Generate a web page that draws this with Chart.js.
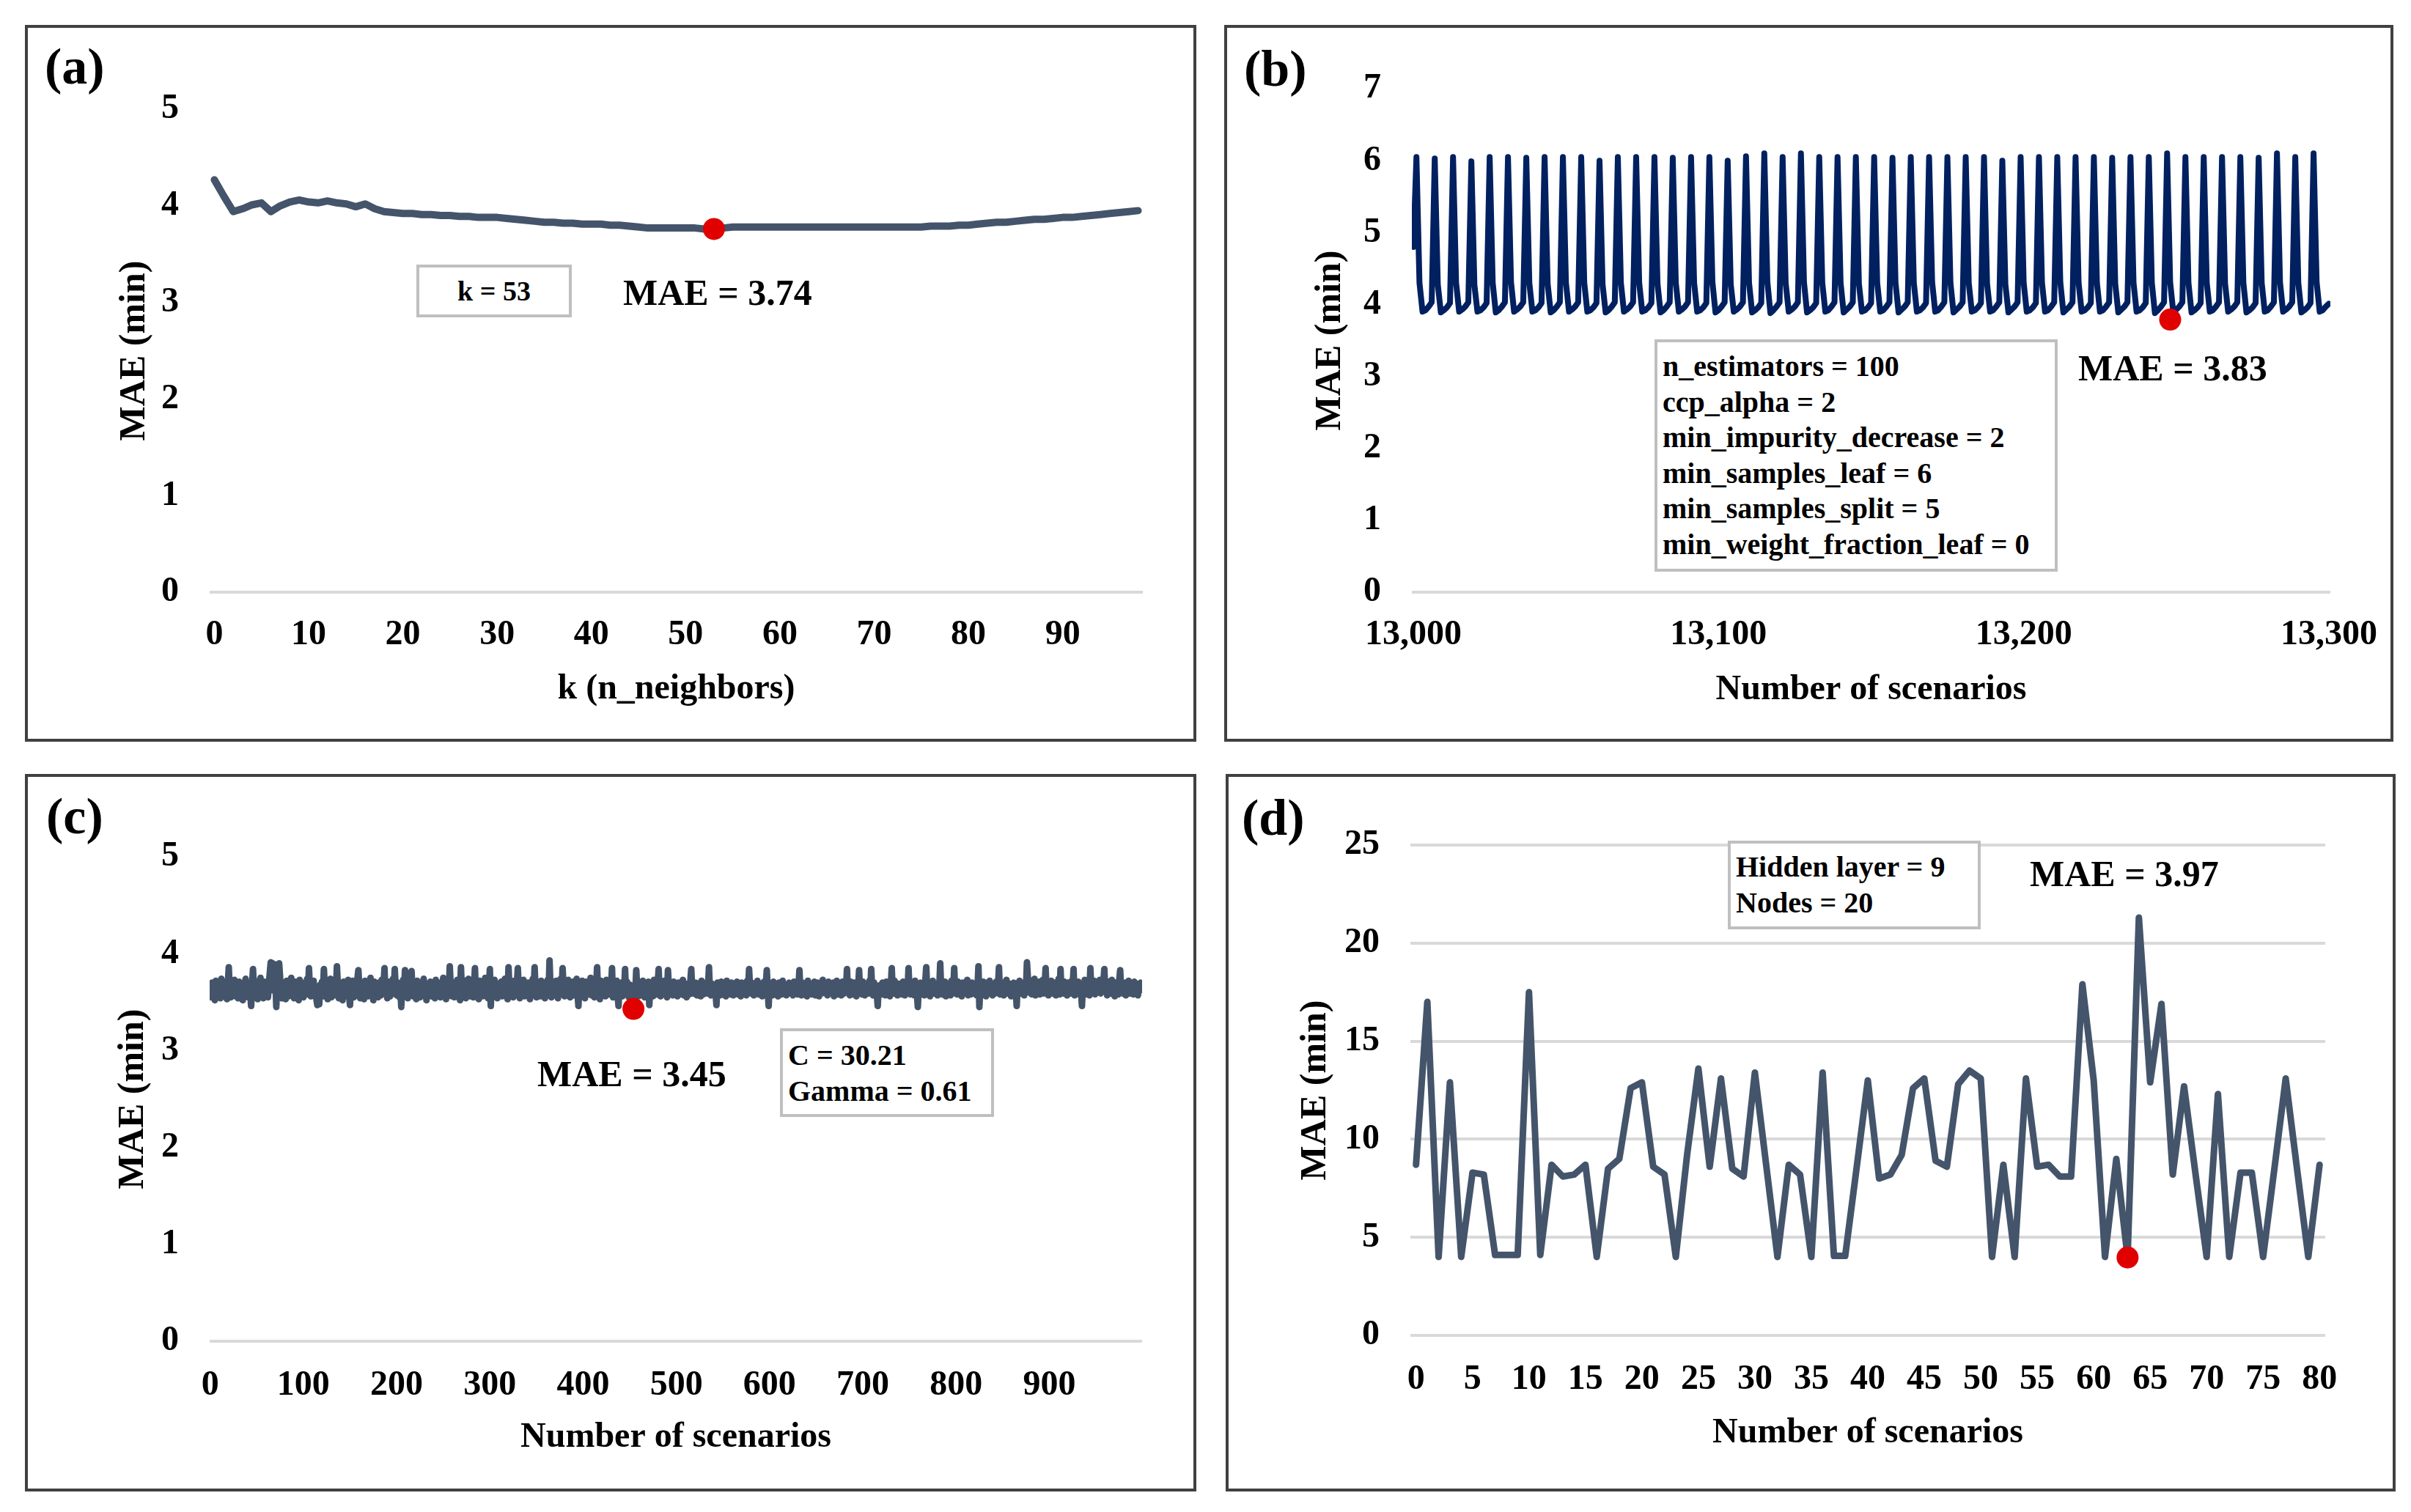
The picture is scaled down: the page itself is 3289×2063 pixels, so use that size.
<!DOCTYPE html>
<html>
<head>
<meta charset="utf-8">
<script src="https://cdn.jsdelivr.net/npm/chart.js@4.4.1/dist/chart.umd.min.js"></script>
<style>
  html, body { margin: 0; padding: 0; background: #fff; }
  body { width: 3289px; height: 2063px; position: relative; overflow: hidden;
         font-family: "Liberation Serif", "Times New Roman", serif; font-weight: bold; color: #000; }
  .panel { position: absolute; border: 4px solid #404040; box-sizing: border-box; }
  canvas { position: absolute; }
  .txt { position: absolute; white-space: nowrap; line-height: 1; }
  .note { position: absolute; border: 4px solid #bfbfbf; box-sizing: border-box; background: #fff; }
</style>
</head>
<body>
<script>
// (a) KNN: MAE against k
const maeKnn = [
  4.27,4.10,3.94,3.97,4.01,4.03,3.94,4.00,4.04,4.06,
  4.04,4.03,4.05,4.03,4.02,3.99,4.02,3.97,3.94,3.93,
  3.92,3.92,3.91,3.91,3.90,3.90,3.89,3.89,3.88,3.88,
  3.88,3.87,3.86,3.85,3.84,3.83,3.83,3.82,3.82,3.81,
  3.81,3.81,3.80,3.80,3.79,3.78,3.77,3.77,3.77,3.77,
  3.77,3.77,3.76,3.76,3.77,3.78,3.78,3.78,3.78,3.78,
  3.78,3.78,3.78,3.78,3.78,3.78,3.78,3.78,3.78,3.78,
  3.78,3.78,3.78,3.78,3.78,3.78,3.79,3.79,3.79,3.80,
  3.80,3.81,3.82,3.83,3.83,3.84,3.85,3.86,3.86,3.87,
  3.88,3.88,3.89,3.90,3.91,3.92,3.93,3.94,3.95
];
const kNeighbors = maeKnn.map((_, i) => i);
const ticksKnn = [0, 10, 20, 30, 40, 50, 60, 70, 80, 90];
const bestKnn = [{ x: 53, y: 3.76 }];

// (b) decision tree: MAE against scenario number, starting at 13,000
const firstScenarioDt = 13000;
const maeDt = [
  4.8,
  6.05,4.3,3.9,3.92,3.97,4.03,
  6.03,4.28,3.89,3.92,3.96,4.02,
  6.05,4.3,3.9,3.93,3.97,4.03,
  5.99,4.27,3.9,3.92,3.96,4.02,
  6.05,4.3,3.89,3.92,3.97,4.03,
  6.05,4.31,3.9,3.93,3.97,4.03,
  6.04,4.3,3.9,3.92,3.96,4.02,
  6.05,4.29,3.89,3.92,3.97,4.03,
  6.05,4.3,3.9,3.93,3.97,4.03,
  6.05,4.3,3.9,3.92,3.96,4.02,
  6.0,4.28,3.89,3.92,3.97,4.03,
  6.05,4.3,3.9,3.93,3.97,4.03,
  6.05,4.3,3.9,3.92,3.96,4.02,
  6.05,4.29,3.89,3.92,3.97,4.03,
  6.04,4.3,3.9,3.93,3.97,4.03,
  6.05,4.3,3.9,3.92,3.96,4.02,
  6.05,4.31,3.89,3.92,3.97,4.03,
  6.0,4.28,3.9,3.93,3.97,4.03,
  6.06,4.3,3.89,3.92,3.96,4.02,
  6.1,4.32,3.88,3.92,3.97,4.03,
  6.05,4.3,3.9,3.93,3.97,4.03,
  6.1,4.31,3.89,3.92,3.96,4.02,
  6.05,4.3,3.9,3.92,3.97,4.03,
  6.05,4.3,3.89,3.93,3.97,4.03,
  6.05,4.29,3.9,3.92,3.96,4.02,
  6.05,4.3,3.9,3.92,3.97,4.03,
  6.04,4.3,3.89,3.93,3.97,4.03,
  6.05,4.3,3.9,3.92,3.96,4.02,
  6.05,4.31,3.9,3.92,3.97,4.03,
  6.05,4.3,3.89,3.93,3.97,4.03,
  6.05,4.3,3.9,3.92,3.96,4.02,
  6.05,4.29,3.9,3.92,3.97,4.03,
  6.0,4.28,3.89,3.93,3.97,4.03,
  6.05,4.3,3.9,3.92,3.96,4.02,
  6.05,4.3,3.9,3.92,3.97,4.03,
  6.05,4.31,3.89,3.93,3.97,4.03,
  6.05,4.3,3.9,3.92,3.96,4.02,
  6.05,4.3,3.9,3.92,3.97,4.03,
  6.04,4.29,3.89,3.93,3.97,4.03,
  6.05,4.3,3.9,3.92,3.96,4.02,
  6.05,4.3,3.88,3.92,3.97,4.03,
  6.1,4.31,3.9,3.93,3.97,4.03,
  6.05,4.3,3.89,3.92,3.96,4.02,
  6.05,4.3,3.9,3.92,3.97,4.03,
  6.05,4.29,3.9,3.93,3.97,4.03,
  6.05,4.3,3.89,3.92,3.96,4.02,
  6.04,4.3,3.9,3.92,3.97,4.03,
  6.1,4.31,3.9,3.93,3.97,4.03,
  6.05,4.3,3.89,3.92,3.96,4.02,
  6.1,4.31,3.9,3.92,3.97,4.01
];
const scenariosDt = maeDt.map((_, i) => firstScenarioDt + i);
const ticksDt = [13000, 13100, 13200, 13300];
const bestDt = [{ x: 13248, y: 3.79 }];

// (c) SVR: MAE over 1000 scenarios
const maeSvr = [
  3.62,3.55,3.70,3.58,3.66,3.52,3.72,3.60,3.57,3.69,3.63,3.54,3.74,3.59,3.67,3.56,3.71,3.61,3.53,3.68,
  3.86,3.62,3.55,3.70,3.64,3.58,3.73,3.56,3.67,3.60,3.54,3.71,3.63,3.57,3.69,3.52,3.66,3.61,3.74,3.58,
  3.65,3.55,3.70,3.60,3.46,3.68,3.84,3.59,3.72,3.56,3.64,3.53,3.69,3.61,3.75,3.57,3.66,3.54,3.71,3.62,
  3.58,3.70,3.55,3.67,3.80,3.91,3.72,3.90,3.62,3.89,3.74,3.45,3.88,3.66,3.90,3.76,3.60,3.54,3.70,3.57,
  3.65,3.53,3.72,3.60,3.56,3.69,3.63,3.75,3.58,3.66,3.54,3.71,3.61,3.57,3.68,3.52,3.73,3.62,3.59,3.67,
  3.55,3.70,3.64,3.58,3.74,3.60,3.85,3.63,3.56,3.69,3.61,3.72,3.57,3.66,3.53,3.47,3.62,3.48,3.68,3.59,
  3.71,3.56,3.84,3.65,3.58,3.70,3.53,3.67,3.62,3.74,3.55,3.68,3.60,3.57,3.72,3.63,3.87,3.66,3.54,3.70,
  3.59,3.64,3.52,3.71,3.61,3.56,3.69,3.63,3.73,3.58,3.47,3.66,3.60,3.72,3.55,3.68,3.62,3.57,3.74,3.83,
  3.65,3.54,3.70,3.60,3.67,3.53,3.72,3.58,3.64,3.56,3.69,3.61,3.75,3.57,3.66,3.52,3.71,3.63,3.59,3.68,
  3.55,3.70,3.62,3.57,3.73,3.60,3.66,3.85,3.58,3.69,3.54,3.71,3.63,3.56,3.68,3.61,3.74,3.59,3.84,3.65,
  3.57,3.70,3.62,3.55,3.68,3.45,3.66,3.73,3.60,3.83,3.58,3.69,3.54,3.71,3.63,3.57,3.82,3.64,3.56,3.70,
  3.61,3.53,3.72,3.59,3.66,3.55,3.70,3.62,3.57,3.74,3.60,3.67,3.52,3.69,3.63,3.58,3.71,3.56,3.65,3.61,
  3.68,3.54,3.73,3.60,3.57,3.70,3.63,3.55,3.67,3.61,3.75,3.58,3.64,3.53,3.71,3.62,3.59,3.87,3.66,3.56,
  3.70,3.60,3.55,3.68,3.63,3.73,3.57,3.66,3.52,3.86,3.61,3.69,3.58,3.72,3.54,3.65,3.62,3.74,3.56,3.67,
  3.60,3.71,3.55,3.64,3.85,3.58,3.69,3.62,3.53,3.72,3.59,3.66,3.56,3.70,3.63,3.75,3.57,3.68,3.54,3.61,
  3.84,3.46,3.70,3.62,3.57,3.73,3.60,3.66,3.54,3.69,3.63,3.58,3.71,3.56,3.67,3.61,3.74,3.59,3.65,3.53,
  3.86,3.64,3.57,3.70,3.60,3.55,3.72,3.63,3.58,3.68,3.85,3.61,3.54,3.71,3.66,3.59,3.73,3.56,3.69,3.62,
  3.57,3.70,3.64,3.53,3.68,3.60,3.74,3.58,3.86,3.63,3.55,3.71,3.61,3.67,3.56,3.72,3.59,3.65,3.62,3.54,
  3.69,3.61,3.73,3.57,3.93,3.64,3.55,3.70,3.60,3.67,3.58,3.72,3.62,3.54,3.68,3.63,3.74,3.59,3.85,3.66,
  3.56,3.70,3.61,3.58,3.73,3.63,3.55,3.68,3.60,3.71,3.57,3.66,3.62,3.74,3.59,3.46,3.69,3.64,3.56,3.72,
  3.60,3.67,3.54,3.71,3.63,3.58,3.69,3.61,3.75,3.57,3.66,3.62,3.55,3.70,3.64,3.86,3.59,3.68,3.53,3.72,
  3.61,3.57,3.70,3.64,3.56,3.73,3.60,3.66,3.58,3.71,3.62,3.85,3.55,3.69,3.63,3.59,3.72,3.57,3.46,3.67,
  3.62,3.70,3.56,3.65,3.60,3.84,3.58,3.71,3.63,3.55,3.68,3.61,3.57,3.66,3.44,3.62,3.59,3.83,3.64,3.56,
  3.70,3.61,3.66,3.57,3.72,3.60,3.55,3.68,3.63,3.59,3.71,3.47,3.65,3.62,3.69,3.56,3.73,3.60,3.64,3.58,
  3.67,3.84,3.61,3.56,3.70,3.63,3.58,3.72,3.60,3.66,3.55,3.83,3.64,3.59,3.69,3.62,3.57,3.71,3.63,3.60,
  3.66,3.56,3.70,3.62,3.58,3.68,3.61,3.73,3.57,3.65,3.60,3.55,3.69,3.63,3.58,3.71,3.84,3.62,3.59,3.67,
  3.61,3.70,3.57,3.64,3.60,3.68,3.56,3.72,3.62,3.58,3.66,3.63,3.70,3.59,3.65,3.86,3.61,3.57,3.69,3.63,
  3.58,3.66,3.62,3.47,3.70,3.60,3.65,3.57,3.71,3.63,3.59,3.68,3.61,3.56,3.72,3.64,3.60,3.67,3.58,3.70,
  3.62,3.57,3.69,3.63,3.60,3.71,3.58,3.66,3.61,3.56,3.70,3.64,3.59,3.68,3.62,3.57,3.72,3.60,3.84,3.65,
  3.59,3.70,3.62,3.57,3.68,3.63,3.60,3.72,3.58,3.66,3.61,3.69,3.56,3.64,3.71,3.60,3.67,3.83,3.62,3.46,
  3.68,3.60,3.65,3.57,3.71,3.62,3.59,3.69,3.63,3.56,3.70,3.61,3.66,3.58,3.72,3.64,3.60,3.68,3.57,3.65,
  3.62,3.70,3.59,3.66,3.61,3.57,3.71,3.63,3.60,3.68,3.58,3.65,3.83,3.62,3.57,3.70,3.64,3.59,3.67,3.61,
  3.56,3.72,3.63,3.60,3.69,3.58,3.66,3.62,3.71,3.57,3.64,3.60,3.70,3.56,3.67,3.63,3.59,3.73,3.61,3.65,
  3.60,3.68,3.57,3.71,3.62,3.59,3.66,3.63,3.70,3.56,3.65,3.61,3.72,3.58,3.67,3.60,3.64,3.57,3.71,3.62,
  3.59,3.68,3.63,3.84,3.60,3.66,3.57,3.71,3.62,3.65,3.58,3.70,3.61,3.56,3.69,3.63,3.83,3.60,3.66,3.58,
  3.71,3.62,3.57,3.68,3.61,3.65,3.59,3.72,3.60,3.84,3.63,3.57,3.70,3.62,3.66,3.58,3.46,3.67,3.61,3.64,
  3.58,3.70,3.62,3.66,3.57,3.71,3.63,3.60,3.68,3.56,3.65,3.85,3.61,3.59,3.72,3.62,3.67,3.57,3.69,3.63,
  3.60,3.66,3.58,3.71,3.62,3.57,3.69,3.64,3.60,3.85,3.63,3.58,3.70,3.61,3.66,3.57,3.72,3.62,3.59,3.45,
  3.67,3.61,3.70,3.58,3.65,3.62,3.57,3.71,3.86,3.63,3.60,3.68,3.56,3.66,3.62,3.72,3.59,3.65,3.61,3.69,
  3.57,3.70,3.63,3.90,3.62,3.58,3.67,3.61,3.71,3.56,3.66,3.60,3.69,3.62,3.57,3.72,3.64,3.59,3.85,3.61,
  3.66,3.58,3.71,3.62,3.60,3.68,3.56,3.70,3.63,3.59,3.67,3.61,3.73,3.57,3.65,3.62,3.58,3.70,3.60,3.66,
  3.61,3.69,3.57,3.64,3.87,3.45,3.68,3.62,3.58,3.71,3.60,3.66,3.56,3.70,3.63,3.59,3.72,3.61,3.65,3.57,
  3.68,3.62,3.59,3.71,3.60,3.66,3.86,3.58,3.64,3.61,3.70,3.57,3.67,3.62,3.73,3.59,3.65,3.60,3.69,3.56,
  3.66,3.61,3.70,3.58,3.64,3.46,3.68,3.62,3.72,3.59,3.65,3.61,3.70,3.57,3.67,3.63,3.91,3.75,3.60,3.68,
  3.72,3.58,3.66,3.62,3.74,3.57,3.69,3.63,3.60,3.71,3.58,3.66,3.62,3.73,3.59,3.65,3.85,3.61,3.70,3.57,
  3.67,3.62,3.72,3.59,3.65,3.60,3.70,3.57,3.68,3.63,3.74,3.58,3.84,3.62,3.66,3.59,3.71,3.61,3.64,3.57,
  3.70,3.62,3.66,3.59,3.72,3.61,3.84,3.57,3.68,3.63,3.60,3.71,3.58,3.66,3.62,3.46,3.69,3.61,3.73,3.58,
  3.65,3.62,3.70,3.57,3.85,3.61,3.67,3.63,3.72,3.58,3.66,3.60,3.69,3.62,3.73,3.59,3.65,3.61,3.70,3.84,
  3.62,3.68,3.57,3.71,3.61,3.66,3.59,3.73,3.60,3.67,3.56,3.70,3.62,3.65,3.58,3.72,3.83,3.61,3.68,3.59,
  3.64,3.70,3.57,3.66,3.62,3.72,3.59,3.68,3.61,3.65,3.58,3.71,3.63,3.60,3.69,3.57,3.66,3.62,3.70,3.64
];
const scenariosSvr = maeSvr.map((_, i) => i);
const ticksSvr = [0, 100, 200, 300, 400, 500, 600, 700, 800, 900];
const bestSvr = [{ x: 454, y: 3.43 }];

// (d) ANN: MAE over 81 scenarios
const maeAnn = [
  8.7, 17.0, 4.0, 12.9, 4.0, 8.3, 8.2, 4.1, 4.1, 4.1,
  17.5, 4.1, 8.7, 8.1, 8.2, 8.7, 4.0, 8.5, 9.0, 12.6,
  12.9, 8.6, 8.2, 4.0, 9.2, 13.6, 8.6, 13.1, 8.5, 8.1,
  13.4, 8.7, 4.0, 8.7, 8.2, 4.0, 13.4, 4.05, 4.05, 8.5,
  13.0, 8.0, 8.2, 9.2, 12.6, 13.1, 8.9, 8.6, 12.8, 13.5,
  13.1, 4.0, 8.7, 4.0, 13.1, 8.6, 8.7, 8.1, 8.1, 17.9,
  13.0, 4.0, 9.0, 3.97, 21.3, 12.9, 16.9, 8.2, 12.7, 8.3,
  4.0, 12.3, 4.0, 8.3, 8.3, 4.0, 8.5, 13.1, 8.5, 4.0,
  8.7
];
const scenariosAnn = maeAnn.map((_, i) => i);
const ticksAnn = [0, 5, 10, 15, 20, 25, 30, 35, 40, 45, 50, 55, 60, 65, 70, 75, 80];
const bestAnn = [{ x: 63, y: 3.97 }];

const ticksMae5 = [0, 1, 2, 3, 4, 5];
const ticksMae7 = [0, 1, 2, 3, 4, 5, 6, 7];
const ticksMae25 = [0, 5, 10, 15, 20, 25];

const FONT = '"Liberation Serif", "Times New Roman", serif';

function addDiv(cls, left, top, w, h) {
  const d = document.createElement('div');
  d.className = cls;
  d.style.left = left + 'px';
  d.style.top = top + 'px';
  if (w) d.style.width = w + 'px';
  if (h) d.style.height = h + 'px';
  document.body.appendChild(d);
  return d;
}

function addText(text, left, centerY, size, shift) {
  const d = addDiv('txt', left, centerY - size * (shift || 0.5));
  d.style.fontSize = size + 'px';
  d.textContent = text;
}

function makePanel(p) {
  addDiv('panel', p.box[0], p.box[1], p.box[2], p.box[3]);
  const cv = document.createElement('canvas');
  cv.width = p.w;
  cv.height = p.h;
  cv.style.left = p.left + 'px';
  cv.style.top = p.top + 'px';
  cv.style.width = p.w + 'px';
  cv.style.height = p.h + 'px';
  document.body.appendChild(cv);

  const line = p.xs.map((x, i) => ({ x: x, y: p.ys[i] }));

  new Chart(cv.getContext('2d'), {
    type: 'scatter',
    data: {
      datasets: [
        { data: p.best, pointRadius: 15, pointBackgroundColor: '#e00000', pointBorderWidth: 0, order: 0 },
        { data: line, showLine: true, borderColor: p.color, borderWidth: p.lw, pointRadius: 0,
          tension: 0, borderJoinStyle: 'round', borderCapStyle: 'round', order: 1 }
      ]
    },
    options: {
      responsive: false,
      animation: false,
      devicePixelRatio: 1,
      layout: { padding: p.pad },
      plugins: { legend: { display: false }, tooltip: { enabled: false } },
      scales: {
        x: {
          type: 'linear',
          min: p.xMin,
          max: p.xMax,
          afterFit: s => { s.height = 170; },
          afterBuildTicks: s => { s.ticks = p.xTicks.map(v => ({ value: v })); },
          grid: { display: false, drawTicks: false },
          border: { display: false },
          ticks: {
            padding: p.xTickPad, color: '#000', autoSkip: false, maxRotation: 0,
            font: { family: FONT, size: 48, weight: 'bold' },
            callback: v => p.comma ? v.toLocaleString('en-US') : String(v)
          },
          title: {
            display: true, text: p.xTitle, color: '#000',
            font: { family: FONT, size: 48, weight: 'bold' },
            padding: { top: 0, bottom: p.xTitlePad }
          }
        },
        y: {
          min: 0,
          max: p.yTicks[p.yTicks.length - 1],
          afterFit: s => { s.width = p.yW; },
          afterBuildTicks: s => { s.ticks = p.yTicks.map(v => ({ value: v })); },
          grid: {
            drawTicks: false, lineWidth: 4,
            color: ctx => (p.allGrid || ctx.tick.value === 0) ? '#d9d9d9' : 'rgba(0,0,0,0)'
          },
          border: { display: false },
          ticks: { padding: 42, color: '#000', font: { family: FONT, size: 48, weight: 'bold' } },
          title: {
            display: true, text: 'MAE (min)', color: '#000',
            font: { family: FONT, size: 50, weight: 'bold' },
            padding: { top: p.yTitlePad, bottom: 0 }
          }
        }
      }
    }
  });
}

makePanel({
  box: [34, 34, 1598, 978], left: 34, top: 34, w: 1598, h: 978,
  pad: { left: 102, right: 73, top: 115, bottom: 34 }, yW: 150,
  xs: kNeighbors, ys: maeKnn, best: bestKnn, xMin: -0.5, xMax: 98.5, xTicks: ticksKnn,
  yTicks: ticksMae5, allGrid: false, color: '#44546a', lw: 10,
  xTitle: 'k (n_neighbors)', xTitlePad: 9, yTitlePad: 18, xTickPad: 30
});

makePanel({
  box: [1670, 34, 1595, 978], left: 1670, top: 34, w: 1619, h: 978,
  pad: { left: 106, right: 110, top: 87, bottom: 34 }, yW: 150,
  xs: scenariosDt, ys: maeDt, best: bestDt, xMin: 12999.5, xMax: 13300.5, xTicks: ticksDt, comma: true,
  yTicks: ticksMae7, allGrid: false, color: '#002060', lw: 8,
  xTitle: 'Number of scenarios', xTitlePad: 8, yTitlePad: 9, xTickPad: 30
});

makePanel({
  box: [34, 1056, 1598, 979], left: 34, top: 1056, w: 1598, h: 979,
  pad: { left: 102, right: 74, top: 113, bottom: 35 }, yW: 150,
  xs: scenariosSvr, ys: maeSvr, best: bestSvr, xMin: -0.5, xMax: 999.5, xTicks: ticksSvr,
  yTicks: ticksMae5, allGrid: false, color: '#44546a', lw: 9,
  xTitle: 'Number of scenarios', xTitlePad: 10, yTitlePad: 16, xTickPad: 32
});

makePanel({
  box: [1672, 1056, 1596, 979], left: 1672, top: 1056, w: 1617, h: 979,
  pad: { left: 82, right: 117, top: 97, bottom: 43 }, yW: 170,
  xs: scenariosAnn, ys: maeAnn, best: bestAnn, xMin: -0.5, xMax: 80.5, xTicks: ticksAnn,
  yTicks: ticksMae25, allGrid: true, color: '#44546a', lw: 9,
  xTitle: 'Number of scenarios', xTitlePad: 8, yTitlePad: 11, xTickPad: 32
});

// panel letters
addText('(a)', 61, 97, 70, 0.59);
addText('(b)', 1697, 100, 70, 0.59);
addText('(c)', 63, 1120, 70, 0.59);
addText('(d)', 1694, 1122, 70, 0.59);

// (a) notes
const noteA = addDiv('note', 568, 361, 212, 72);
noteA.style.display = 'flex';
noteA.style.alignItems = 'center';
noteA.style.justifyContent = 'center';
noteA.style.fontSize = '38px';
noteA.style.lineHeight = '1';
noteA.textContent = 'k = 53';
addText('MAE = 3.74', 850, 399, 50);

// (b) notes
addDiv('note', 2257, 463, 550, 317);
const paramsDt = ['n_estimators = 100', 'ccp_alpha = 2', 'min_impurity_decrease = 2',
  'min_samples_leaf = 6', 'min_samples_split = 5', 'min_weight_fraction_leaf = 0'];
paramsDt.forEach((t, i) => addText(t, 2268, 500 + i * 48.6, 40));
addText('MAE = 3.83', 2835, 502, 50);

// (c) notes
addDiv('note', 1064, 1403, 292, 121);
addText('C = 30.21', 1075, 1440, 40);
addText('Gamma = 0.61', 1075, 1489, 40);
addText('MAE = 3.45', 733, 1465, 50);

// (d) notes
addDiv('note', 2357, 1147, 345, 121);
addText('Hidden layer = 9', 2368, 1183, 40);
addText('Nodes = 20', 2368, 1232, 40);
addText('MAE = 3.97', 2769, 1192, 50);
</script>
</body>
</html>
